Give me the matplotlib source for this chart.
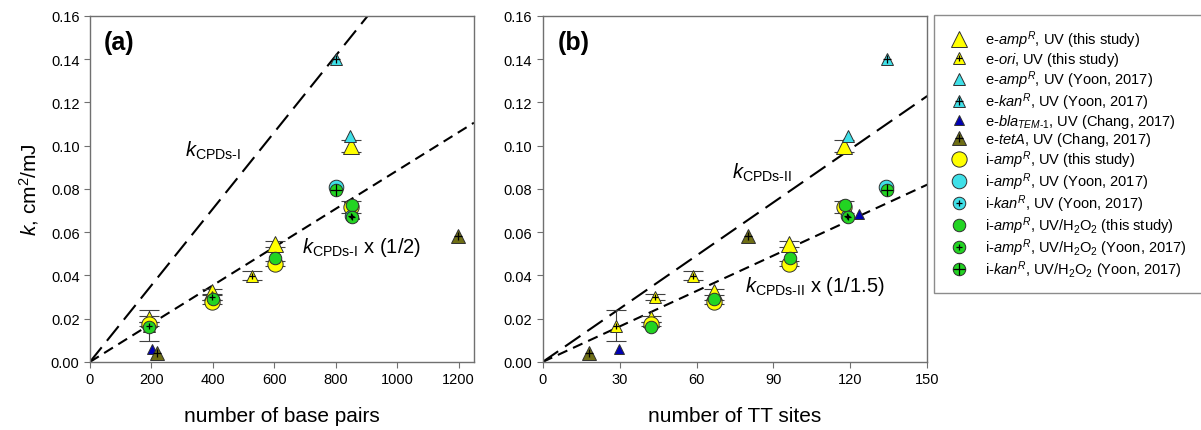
import matplotlib
matplotlib.use("Agg")
import matplotlib.pyplot as plt
import numpy as np

plt.rcParams['font.family'] = ['Liberation Sans', 'DejaVu Sans']
plt.rcParams['mathtext.fontset'] = 'custom'
plt.rcParams['mathtext.rm'] = 'Liberation Sans'
plt.rcParams['mathtext.it'] = 'Liberation Sans:italic'
plt.rcParams['mathtext.bf'] = 'Liberation Sans:bold'

# data: (base pairs, TT sites, k cm2/mJ, error)
e_amp_bp = [192, 398, 602, 851]
e_amp_tt = [42.1, 66.9, 96.2, 117.6]
e_amp_k = [0.0199, 0.0323, 0.0546, 0.100]
e_amp_err = [0.0015, 0.0015, 0.0015, 0.0027]

e_ori_bp = [192, 398, 528]
e_ori_tt = [28.7, 43.8, 58.7]
e_ori_k = [0.0168, 0.0300, 0.0399]
e_ori_err = [0.0070, 0.0012, 0.0020]

e_amp_yoon_bp = [848]
e_amp_yoon_tt = [119.0]
e_amp_yoon_k = [0.1047]

e_kan_yoon_bp = [802]
e_kan_yoon_tt = [134.2]
e_kan_yoon_k = [0.1400]

e_bla_bp = [201, 859]
e_bla_tt = [29.9, 123.4]
e_bla_k = [0.0058, 0.0683]

e_tet_bp = [217, 1198]
e_tet_tt = [18.1, 80.2]
e_tet_k = [0.0040, 0.0583]

i_amp_bp = [192, 398, 602, 851]
i_amp_tt = [42.1, 66.9, 96.2, 117.6]
i_amp_k = [0.0175, 0.0278, 0.0455, 0.0718]
i_amp_err = [0.0010, 0.0010, 0.0010, 0.0027]

i_amp_yoon_bp = [802]
i_amp_yoon_tt = [133.8]
i_amp_yoon_k = [0.0810]

i_kan_yoon_bp = [849]
i_kan_yoon_tt = [118.8]
i_kan_yoon_k = [0.0677]

h_amp_bp = [193, 399, 603, 853]
h_amp_tt = [42.1, 66.9, 96.6, 118.0]
h_amp_k = [0.0160, 0.0292, 0.0482, 0.0726]

h_amp_yoon_bp = [852]
h_amp_yoon_tt = [119.0]
h_amp_yoon_k = [0.0670]

h_kan_yoon_bp = [802]
h_kan_yoon_tt = [134.2]
h_kan_yoon_k = [0.0795]

slope_bp = 1.77e-4   # k_CPDs-I per base pair
slope_tt = 8.2e-4    # k_CPDs-II per TT site

YEL, CYN, NAV, OLV, GRN = '#FFFF00', '#3FE0E8', '#0000B4', '#6E6E14', '#22D422'
EDGE = '#303030'

# style per series: label, fill, marker, size, plus size (0 = none)
series = [
    (r'e-$\mathit{amp}^R$, UV (this study)', YEL, '^', 11, 0),
    (r'e-$\mathit{ori}$, UV (this study)', YEL, '^', 8, 5),
    (r'e-$\mathit{amp}^R$, UV (Yoon, 2017)', CYN, '^', 8.5, 0),
    (r'e-$\mathit{kan}^R$, UV (Yoon, 2017)', CYN, '^', 8.5, 6),
    (r'e-$\mathit{bla}_{\mathit{TEM}\text{-}\mathit{1}}$, UV (Chang, 2017)', NAV, '^', 7, 0),
    (r'e-$\mathit{tetA}$, UV (Chang, 2017)', OLV, '^', 9.5, 6),
    (r'i-$\mathit{amp}^R$, UV (this study)', YEL, 'o', 11, 0),
    (r'i-$\mathit{amp}^R$, UV (Yoon, 2017)', CYN, 'o', 10.5, 0),
    (r'i-$\mathit{kan}^R$, UV (Yoon, 2017)', CYN, 'o', 9, 5),
    (r'i-$\mathit{amp}^R$, UV/H$_2$O$_2$ (this study)', GRN, 'o', 9, 0),
    (r'i-$\mathit{amp}^R$, UV/H$_2$O$_2$ (Yoon, 2017)', GRN, 'o', 9, 5),
    (r'i-$\mathit{kan}^R$, UV/H$_2$O$_2$ (Yoon, 2017)', GRN, 'o', 9, 9),
]

xs_bp = [e_amp_bp, e_ori_bp, e_amp_yoon_bp, e_kan_yoon_bp, e_bla_bp, e_tet_bp,
         i_amp_bp, i_amp_yoon_bp, i_kan_yoon_bp, h_amp_bp, h_amp_yoon_bp, h_kan_yoon_bp]
xs_tt = [e_amp_tt, e_ori_tt, e_amp_yoon_tt, e_kan_yoon_tt, e_bla_tt, e_tet_tt,
         i_amp_tt, i_amp_yoon_tt, i_kan_yoon_tt, h_amp_tt, h_amp_yoon_tt, h_kan_yoon_tt]
ys = [e_amp_k, e_ori_k, e_amp_yoon_k, e_kan_yoon_k, e_bla_k, e_tet_k,
      i_amp_k, i_amp_yoon_k, i_kan_yoon_k, h_amp_k, h_amp_yoon_k, h_kan_yoon_k]
errs = {0: e_amp_err, 1: e_ori_err, 6: i_amp_err}

fig = plt.figure(figsize=(12.01, 4.31), dpi=100)
ax_a = fig.add_axes([0.0749, 0.158, 0.3197, 0.8026])
ax_b = fig.add_axes([0.4519, 0.158, 0.3202, 0.8026])


def draw_panel(ax, xs, slope, xmax):
    xline = np.array([0, xmax])
    ax.plot(xline, slope * xline, color='black', lw=1.5, dashes=(9, 4), zorder=2)
    ax.plot(xline, slope / (2 if xmax > 200 else 1.5) * xline, color='black',
            lw=1.5, dashes=(5, 3), zorder=2)
    handles = []
    for i, (lab, fc, mk, ms, plus) in enumerate(series):
        if i in errs:
            ax.errorbar(xs[i], ys[i], yerr=errs[i], fmt='none', ecolor='#404040',
                        elinewidth=0.8, capsize=7, capthick=0.8, zorder=3)
        h1, = ax.plot(xs[i], ys[i], ls='none', marker=mk, ms=ms, mfc=fc,
                      mec=EDGE, mew=0.7, zorder=4, clip_on=False)
        if plus:
            h2, = ax.plot(xs[i], ys[i], ls='none', marker='+', ms=plus,
                          mec='black', mew=0.9, zorder=5, clip_on=False)
            handles.append(((h1, h2), lab))
        else:
            handles.append((h1, lab))
    ax.set_ylim(0, 0.16)
    ax.set_yticks(np.arange(0, 0.161, 0.02))
    ax.yaxis.set_major_formatter(matplotlib.ticker.FormatStrFormatter('%.2f'))
    for s in ax.spines.values():
        s.set_color('#707070')
        s.set_linewidth(1.0)
    ax.tick_params(direction='out', length=4, color='#707070', labelsize=10.5,
                   top=False, right=False)
    ax.set_ylabel(r'$\mathit{k}$, cm$^2$/mJ', fontsize=15, labelpad=7)
    return handles


handles = draw_panel(ax_a, xs_bp, slope_bp, 1250)
ax_a.set_xlim(0, 1250)
ax_a.set_xticks(np.arange(0, 1201, 200))
ax_a.set_xlabel('number of base pairs', fontsize=15, labelpad=14)
ax_a.text(45, 0.148, '(a)', fontsize=18, fontweight='bold', va='center')
ax_a.text(310, 0.098, r'$\mathit{k}_{\mathrm{CPDs\text{-}I}}$', fontsize=14.5, va='center')
ax_a.text(690, 0.0535, r'$\mathit{k}_{\mathrm{CPDs\text{-}I}}$ x (1/2)', fontsize=14.5,
          va='center')

draw_panel(ax_b, xs_tt, slope_tt, 150)
ax_b.set_xlim(0, 150)
ax_b.set_xticks(np.arange(0, 151, 30))
ax_b.set_xlabel('number of TT sites', fontsize=15, labelpad=14)
ax_b.set_ylabel('')
ax_b.text(6, 0.148, '(b)', fontsize=18, fontweight='bold', va='center')
ax_b.text(74, 0.088, r'$\mathit{k}_{\mathrm{CPDs\text{-}II}}$', fontsize=14.5, va='center')
ax_b.text(79, 0.0355, r'$\mathit{k}_{\mathrm{CPDs\text{-}II}}$ x (1/1.5)', fontsize=14.5,
          va='center')

leg = fig.legend([h for h, _ in handles], [l for _, l in handles],
                 loc='upper left', bbox_to_anchor=(0.7777, 0.963, 0.26, 0.0),
                 mode='expand', fontsize=10.5, frameon=True, fancybox=False,
                 edgecolor='#707070', labelspacing=0.02, handlelength=1.6,
                 handletextpad=1.0, borderpad=0.9, borderaxespad=0.0)
leg.get_frame().set_linewidth(1.0)

fig.savefig('out.png', dpi=100)
